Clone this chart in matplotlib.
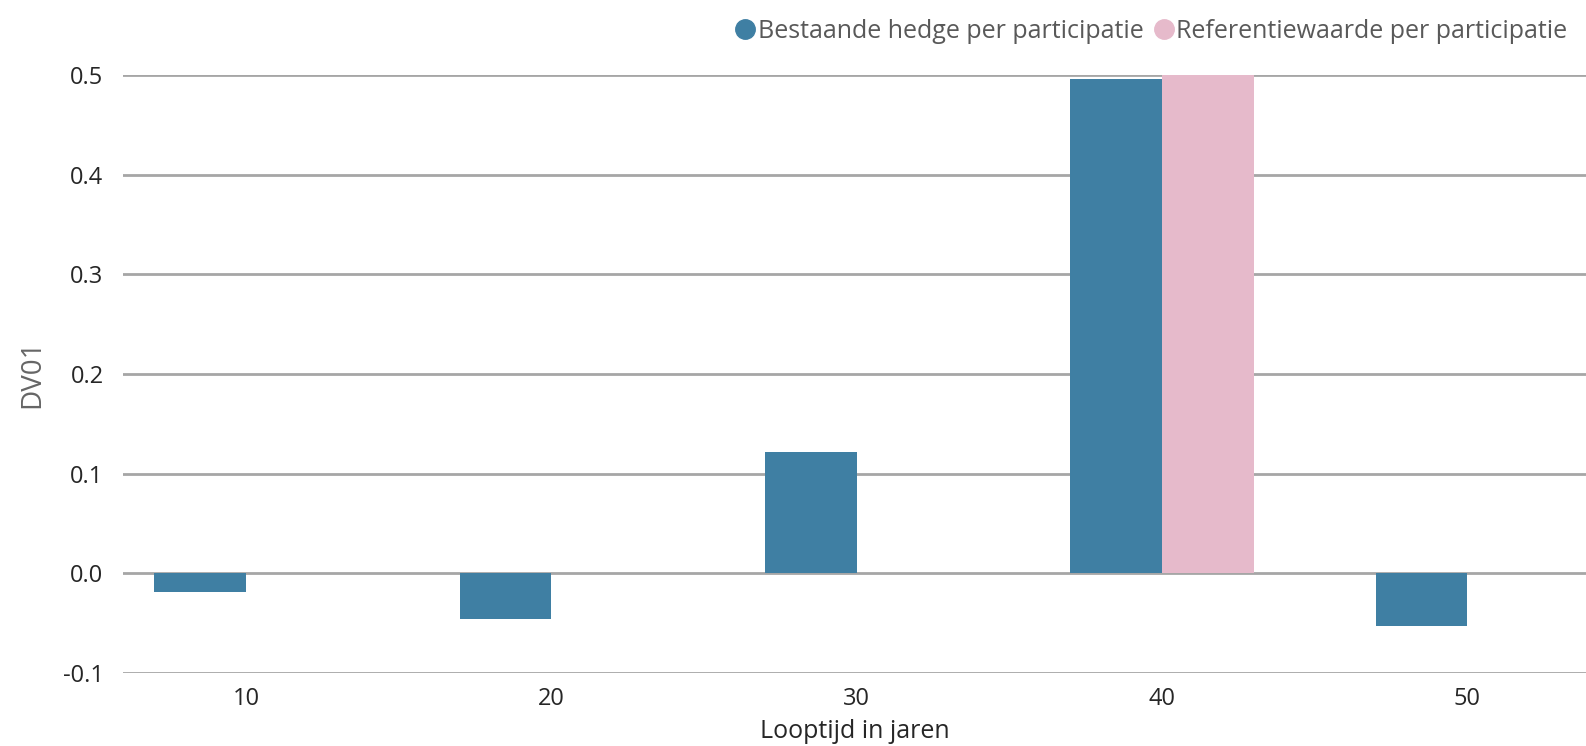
import matplotlib
matplotlib.use("Agg")
import matplotlib.pyplot as plt
from matplotlib.lines import Line2D
import numpy as np

plt.rcParams['font.family'] = ['Open Sans', 'DejaVu Sans']

categories = ["10", "20", "30", "40", "50"]
bestaande = [-0.019, -0.046, 0.122, 0.496, -0.053]
referentie = [0.0, 0.0, 0.0, 0.5, 0.0]
series_names = ["Bestaande hedge per participatie", "Referentiewaarde per participatie"]
yticks = [-0.1, 0.0, 0.1, 0.2, 0.3, 0.4, 0.5]

c_blue = "#3F7FA3"
c_pink = "#E6BACB"

W, H = 1586, 746
fig = plt.figure(figsize=(W/100, H/100), dpi=100)
ax = fig.add_axes([123/W, (H-673)/H, 1 - 123/W, (673-75)/H])

x = np.arange(len(categories))
bw = 0.3
ax.bar(x - bw/2, bestaande, width=bw, color=c_blue, zorder=3)
ax.bar(x + bw/2, referentie, width=bw, color=c_pink, zorder=3)

ax.set_ylim(-0.1, 0.5)
ax.set_xlim(-0.403, 4.389)
ax.set_yticks(yticks)
ax.set_yticklabels([f"{v:.1f}" for v in yticks])
ax.set_xticks(x)
ax.set_xticklabels(categories)
ax.yaxis.grid(True, color="#A6A6A6", linewidth=2, zorder=0)
ax.set_axisbelow(True)
for s in ax.spines.values():
    s.set_visible(False)
ax.tick_params(axis='both', length=0, labelsize=17, labelcolor="#262626")
ax.tick_params(axis='y', pad=14)
ax.tick_params(axis='x', pad=10)

ax.set_ylabel("DV01", fontsize=20, color="#666666", labelpad=12)
ax.set_xlabel("Looptijd in jaren", fontsize=18, color="#262626", labelpad=6)

handles = [Line2D([], [], marker='o', linestyle='', markersize=14, color=c)
           for c in (c_blue, c_pink)]
fig.legend(handles, series_names, loc='upper right', bbox_to_anchor=(1.0, 1.0),
           ncol=2, frameon=False, fontsize=18, labelcolor="#595959",
           handletextpad=0.0, columnspacing=0.3, handlelength=1.0,
           borderaxespad=0.35)

fig.savefig("out.png", dpi=100)
